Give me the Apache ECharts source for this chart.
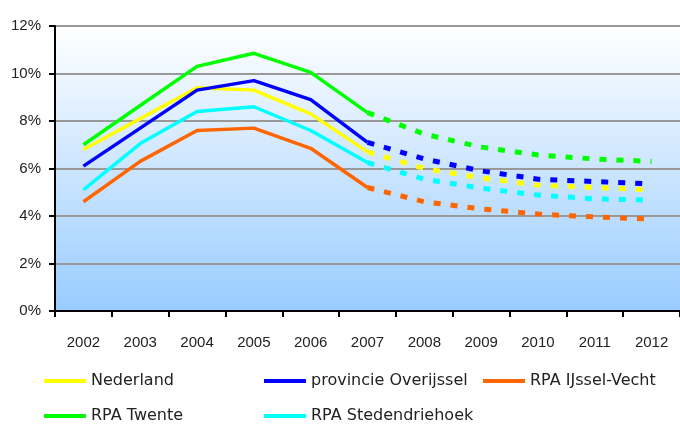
<!DOCTYPE html>
<html>
<head>
<meta charset="utf-8">
<script src="https://cdn.jsdelivr.net/npm/echarts@6/dist/echarts.min.js"></script>
<style>
html,body{margin:0;padding:0;background:#fff;}
#chart{width:680px;height:425px;}
</style>
</head>
<body>
<div id="chart"></div>
<script>
// ---- data ----
var years = ['2002','2003','2004','2005','2006','2007','2008','2009','2010','2011','2012'];
var yTicks = [0, 2, 4, 6, 8, 10, 12];
var nederland   = [6.8, 8.1, 9.4, 9.3, 8.3, 6.7, 6.0, 5.6, 5.3, 5.2, 5.1];
var overijssel  = [6.1, 7.7, 9.3, 9.7, 8.9, 7.1, 6.4, 5.9, 5.55, 5.45, 5.35];
var ijsselVecht = [4.6, 6.3, 7.6, 7.7, 6.85, 5.2, 4.6, 4.3, 4.08, 3.96, 3.87];
var twente      = [7.0, 8.65, 10.3, 10.85, 10.05, 8.35, 7.45, 6.9, 6.57, 6.4, 6.3];
var stedendriehoek = [5.1, 7.05, 8.4, 8.6, 7.6, 6.25, 5.55, 5.17, 4.88, 4.72, 4.67];
var names = ['Nederland','provincie Overijssel','RPA IJssel-Vecht','RPA Twente','RPA Stedendriehoek'];
var lastActual = '2007';

var colors = {
  'Nederland':'#ffff00',
  'provincie Overijssel':'#0000ff',
  'RPA IJssel-Vecht':'#ff6600',
  'RPA Twente':'#00ff00',
  'RPA Stedendriehoek':'#00ffff'
};
var values = {
  'Nederland':nederland,
  'provincie Overijssel':overijssel,
  'RPA IJssel-Vecht':ijsselVecht,
  'RPA Twente':twente,
  'RPA Stedendriehoek':stedendriehoek
};

var cut = years.indexOf(lastActual);
var series = [];
var order = ['RPA Twente','Nederland','provincie Overijssel','RPA Stedendriehoek','RPA IJssel-Vecht'];
order.forEach(function(n){
  var v = values[n];
  var solid = v.map(function(x,i){ return i <= cut ? x : null; });
  var dashed = v.map(function(x,i){ return i >= cut ? x : null; });
  series.push({name:n, type:'line', data:solid, symbol:'none', silent:true,
    itemStyle:{color:colors[n]}, lineStyle:{color:colors[n], width:3.5}});
  series.push({name:n, type:'line', data:dashed, symbol:'none', silent:true,
    itemStyle:{color:colors[n]}, lineStyle:{color:colors[n], width:5, type:[7,10]}});
});

var legendFont = {fontFamily:'DejaVu Sans', fontSize:16, color:'#222'};
function leg(name, left, top){
  return {data:[name], left:left, top:top, icon:'rect', itemWidth:42, itemHeight:4,
    padding:0, itemGap:0, textStyle:legendFont, selectedMode:false};
}

var axisFamily = '"Liberation Sans", Arial, sans-serif';

var chart = echarts.init(document.getElementById('chart'), null, {renderer:'canvas'});
chart.setOption({
  animation:false,
  grid:{left:55, top:26, width:629, height:285, show:true, borderWidth:0,
    backgroundColor:{type:'linear', x:0, y:0, x2:0, y2:1,
      colorStops:[{offset:0,color:'#ffffff'},{offset:1,color:'#99ccff'}]}},
  legend:[
    leg(names[0], 44, 373),
    leg(names[1], 264, 373),
    leg(names[2], 483, 373),
    leg(names[3], 44, 408),
    leg(names[4], 264, 408)
  ],
  xAxis:{type:'category', data:years, boundaryGap:true,
    axisLine:{show:true, lineStyle:{color:'#000', width:2}},
    axisTick:{show:true, length:6, alignWithLabel:false, lineStyle:{color:'#000', width:2}},
    axisLabel:{margin:24, fontFamily:axisFamily, fontSize:15, color:'#222'},
    splitLine:{show:false}},
  yAxis:{type:'value', min:yTicks[0], max:yTicks[yTicks.length-1], interval:2,
    axisLine:{show:true, lineStyle:{color:'#000', width:2}},
    axisTick:{show:true, length:6, lineStyle:{color:'#000', width:2}},
    axisLabel:{margin:14, formatter:'{value}%', fontFamily:axisFamily, fontSize:15, color:'#222'},
    splitLine:{show:true, lineStyle:{color:'#999', width:2}}},
  series:series
});
</script>
</body>
</html>
